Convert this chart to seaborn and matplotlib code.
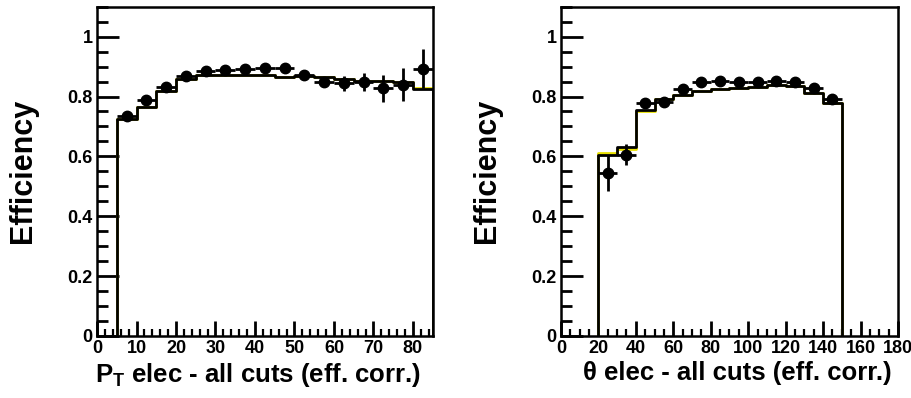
import numpy as np
import pandas as pd
import matplotlib
matplotlib.use("Agg")
import matplotlib.pyplot as plt
from matplotlib.ticker import MultipleLocator
import seaborn as sns

# ---- electron transverse momentum efficiency ----
pt_edges = [5, 10, 15, 20, 25, 30, 35, 40, 45, 50, 55, 60, 65, 70, 75, 80, 85]
pt_mc = [0.724, 0.766, 0.820, 0.858, 0.872, 0.872, 0.872, 0.871, 0.866,
         0.868, 0.866, 0.858, 0.853, 0.851, 0.849, 0.825]
pt_mc_alt = [0.724, 0.766, 0.820, 0.858, 0.872, 0.872, 0.872, 0.871, 0.866,
             0.868, 0.866, 0.858, 0.853, 0.851, 0.849, 0.830]
pt_data = [0.736, 0.789, 0.833, 0.867, 0.884, 0.889, 0.891, 0.894, 0.894,
           0.873, 0.849, 0.844, 0.847, 0.827, 0.840, 0.893]
pt_err = [0.006, 0.007, 0.007, 0.007, 0.007, 0.008, 0.008, 0.009, 0.010,
          0.012, 0.016, 0.026, 0.030, 0.045, 0.055, 0.066]

# ---- electron polar angle efficiency ----
th_edges = [20, 30, 40, 50, 60, 70, 80, 90, 100, 110, 120, 130, 140, 150]
th_mc = [0.603, 0.632, 0.754, 0.791, 0.806, 0.819, 0.824, 0.829, 0.833,
         0.838, 0.836, 0.813, 0.780]
th_mc_alt = [0.610, 0.624, 0.750, 0.791, 0.806, 0.819, 0.824, 0.829, 0.833,
             0.838, 0.836, 0.813, 0.780]
th_data = [0.544, 0.605, 0.777, 0.783, 0.824, 0.847, 0.853, 0.850, 0.849,
           0.853, 0.849, 0.830, 0.793]
th_err = [0.060, 0.035, 0.015, 0.010, 0.008, 0.007, 0.007, 0.007, 0.007,
          0.007, 0.007, 0.008, 0.009]

sns.set_style("ticks")
plt.rcParams["font.family"] = ["Liberation Sans", "DejaVu Sans"]
plt.rcParams["font.weight"] = "bold"
plt.rcParams["mathtext.fontset"] = "custom"
plt.rcParams["mathtext.bf"] = "Liberation Sans:bold"
plt.rcParams["mathtext.rm"] = "Liberation Sans:bold"
for key in ("text.color", "axes.labelcolor", "xtick.color", "ytick.color",
            "axes.edgecolor"):
    plt.rcParams[key] = "black"

fig = plt.figure(figsize=(9.12, 3.98), dpi=100)
ax1 = fig.add_axes([0.1064, 0.156, 0.368, 0.827])
ax2 = fig.add_axes([0.6151, 0.156, 0.3695, 0.827])


def panel(ax, edges, mc, mc_alt, data, err, xmax, major, minor, xlabel, xlab_pos):
    e = np.asarray(edges, float)
    centers = 0.5 * (e[:-1] + e[1:])
    half = 0.5 * np.diff(e)
    df = pd.DataFrame({"x": centers, "mc": mc, "alt": mc_alt})
    for col, colour, z in (("alt", "#e8e000", 2), ("mc", "black", 3)):
        sns.histplot(data=df, x="x", weights=col, bins=list(edges),
                     element="step", fill=False, color=colour, linewidth=2.0,
                     ax=ax, zorder=z)
        # close the outline down to zero at both ends of the range
        ax.vlines([e[0], e[-1]], 0, [df[col].iloc[0], df[col].iloc[-1]],
                  color=colour, linewidth=2.0, zorder=z)
    ax.errorbar(centers, data, xerr=half, yerr=err, fmt="o", color="black",
                markersize=7.5, elinewidth=2.0, capsize=0, zorder=4)
    ax.set_xlim(0, xmax)
    ax.set_ylim(0, 1.1)
    ax.xaxis.set_major_locator(MultipleLocator(major))
    ax.xaxis.set_minor_locator(MultipleLocator(minor))
    ax.yaxis.set_minor_locator(MultipleLocator(0.05))
    ax.set_yticks([0, 0.2, 0.4, 0.6, 0.8, 1.0])
    ax.set_yticklabels(["0", "0.2", "0.4", "0.6", "0.8", "1"])
    ax.tick_params(axis="both", which="major", direction="in", labelsize=13,
                   width=2.0, pad=3, colors="black")
    ax.tick_params(axis="y", which="major", length=16)
    ax.tick_params(axis="y", which="minor", direction="in", length=8, width=2.0,
                   colors="black")
    ax.tick_params(axis="x", which="major", length=11)
    ax.tick_params(axis="x", which="minor", direction="in", length=5, width=1.6,
                   colors="black")
    for lab in ax.get_xticklabels() + ax.get_yticklabels():
        lab.set_fontweight("bold")
    for s in ax.spines.values():
        s.set_visible(True)
        s.set_linewidth(1.8)
        s.set_color("black")
    ax.set_ylabel("Efficiency", fontsize=22, fontweight="bold", labelpad=21)
    ax.set_xlabel(xlabel, fontsize=18.5, fontweight="bold", labelpad=3)
    ax.xaxis.label.set_x(xlab_pos)


panel(ax1, pt_edges, pt_mc, pt_mc_alt, pt_data, pt_err, 85, 10, 2,
      r"P$_{\mathrm{T}}$ elec - all cuts (eff. corr.)", 0.479)
panel(ax2, th_edges, th_mc, th_mc_alt, th_data, th_err, 180, 20, 5,
      "\u03b8 elec - all cuts (eff. corr.)", 0.524)

fig.savefig("out.png", dpi=100)
